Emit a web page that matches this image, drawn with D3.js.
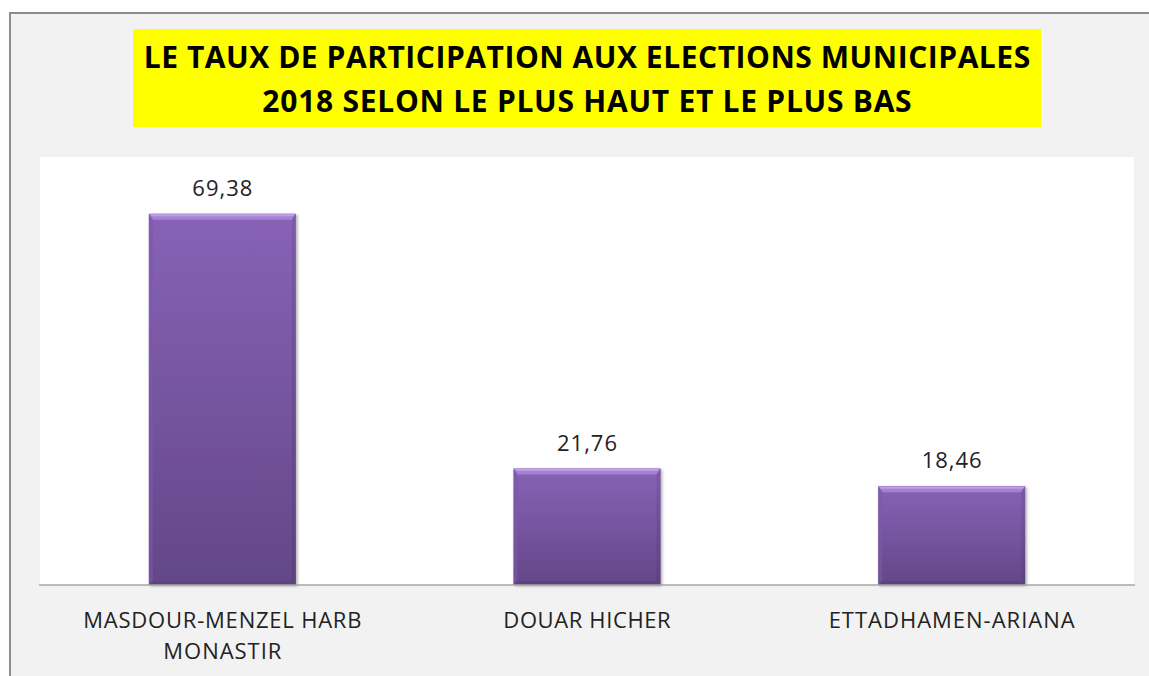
<!DOCTYPE html>
<html><head><meta charset="utf-8">
<script src="https://cdn.jsdelivr.net/npm/d3@7"></script>
<style>html,body{margin:0;padding:0;background:#fff;}</style>
</head><body>
<svg id="chart" width="1149" height="676"></svg>
<script>
const categories = [["MASDOUR-MENZEL HARB","MONASTIR"],["DOUAR HICHER"],["ETTADHAMEN-ARIANA"]];
const values = [69.38, 21.76, 18.46];
const valueLabels = ["69,38","21,76","18,46"];
const titleLines = ["LE TAUX DE PARTICIPATION AUX ELECTIONS MUNICIPALES","2018 SELON LE PLUS HAUT ET LE PLUS BAS"];

const svg = d3.select("#chart");
const W = 1149, H = 676;
const font = "'Open Sans', sans-serif";

const defs = svg.append("defs");
const g1 = defs.append("linearGradient").attr("id","barGrad").attr("x1",0).attr("y1",0).attr("x2",0).attr("y2",1);
g1.append("stop").attr("offset","0%").attr("stop-color","#8862b6");
g1.append("stop").attr("offset","100%").attr("stop-color","#634788");
const g2 = defs.append("linearGradient").attr("id","sideGrad").attr("x1",0).attr("y1",0).attr("x2",0).attr("y2",1);
g2.append("stop").attr("offset","0%").attr("stop-color","#7a56a6");
g2.append("stop").attr("offset","100%").attr("stop-color","#57407a");
const f = defs.append("filter").attr("id","shadow").attr("x","-10%").attr("y","-10%").attr("width","130%").attr("height","130%");
f.append("feDropShadow").attr("dx",1.5).attr("dy",1).attr("stdDeviation",1.5).attr("flood-color","#000").attr("flood-opacity",0.35);

// fit text width by letter-spacing, keeping it centred
function fitEl(el, target){
  const len = el.getComputedTextLength();
  const n = el.textContent.length;
  if (n > 1) {
    const ls = (target - len) / n;
    d3.select(el).attr("letter-spacing", ls.toFixed(3)).attr("dx", (ls/2).toFixed(3));
  }
}

// outer frame
svg.append("rect").attr("x",10).attr("y",13).attr("width",W).attr("height",H).attr("fill","#f2f2f2").attr("stroke","#8c8c8c").attr("stroke-width",2);

// title box
svg.append("rect").attr("x",133).attr("y",29).attr("width",908).attr("height",98).attr("fill","#ffff00");
const titleWidths = [887, 650];
svg.append("g").selectAll("text").data(titleLines).join("text")
  .attr("x",587).attr("y",(d,i)=>68+i*44)
  .attr("text-anchor","middle").attr("font-family",font).attr("font-weight","bold")
  .attr("font-size",30).attr("fill","#000").text(d=>d)
  .each(function(d,i){ fitEl(this, titleWidths[i]); });

// plot area
const pLeft = 40, pRight = 1134, pTop = 157, pBottom = 585;
svg.append("rect").attr("x",pLeft).attr("y",pTop).attr("width",pRight-pLeft).attr("height",pBottom-pTop).attr("fill","#fff");

const x = d3.scaleBand().domain(d3.range(values.length)).range([pLeft,pRight]).paddingInner(0.597).paddingOuter(0.2985);
const y = d3.scaleLinear().domain([0,80]).range([pBottom,pTop]);

const bars = svg.append("g").selectAll("g").data(values).join("g");
bars.append("rect")
  .attr("x",(d,i)=>x(i)).attr("y",d=>y(d)).attr("width",x.bandwidth()).attr("height",d=>y(0)-y(d))
  .attr("fill","url(#barGrad)").attr("filter","url(#shadow)");
const bv = 6, sv = 4;
bars.append("path").attr("d",(d,i)=>{
  const x0=x(i), x1=x(i)+x.bandwidth(), y0=y(d);
  return `M${x0},${y0}L${x1},${y0}L${x1-sv},${y0+bv}L${x0+sv},${y0+bv}Z`;
}).attr("fill","#a885d6").attr("opacity",0.9);
bars.append("path").attr("d",(d,i)=>{
  const x0=x(i), x1=x(i)+x.bandwidth(), y0=y(d);
  return `M${x0+1},${y0+0.5}L${x1-1},${y0+0.5}L${x1-3},${y0+2.5}L${x0+3},${y0+2.5}Z`;
}).attr("fill","#c3a5ee").attr("opacity",0.8);
bars.append("path").attr("d",(d,i)=>{
  const x0=x(i), y0=y(d), yb=y(0);
  return `M${x0},${y0}L${x0+sv},${y0+bv}L${x0+sv},${yb-sv}L${x0},${yb}Z`;
}).attr("fill","#7c58aa").attr("opacity",0.6);
bars.append("path").attr("d",(d,i)=>{
  const x1=x(i)+x.bandwidth(), y0=y(d), yb=y(0);
  return `M${x1},${y0}L${x1-sv},${y0+bv}L${x1-sv},${yb-sv}L${x1},${yb}Z`;
}).attr("fill","url(#sideGrad)").attr("opacity",0.7);
bars.append("path").attr("d",(d,i)=>{
  const x0=x(i), x1=x(i)+x.bandwidth(), yb=y(0);
  return `M${x0},${yb}L${x0+sv},${yb-sv}L${x1-sv},${yb-sv}L${x1},${yb}Z`;
}).attr("fill","#5a417e").attr("opacity",0.8);

svg.append("g").selectAll("text").data(values).join("text")
  .attr("x",(d,i)=>x(i)+x.bandwidth()/2).attr("y",d=>y(d)-18)
  .attr("text-anchor","middle").attr("font-family",font).attr("font-size",22).attr("fill","#222")
  .text((d,i)=>valueLabels[i])
  .each(function(){ fitEl(this, 61); });

const xAxis = d3.axisBottom(x).tickSize(0).tickFormat("");
const ax = svg.append("g").attr("transform",`translate(0,${pBottom})`).call(xAxis);
ax.select(".domain").attr("stroke","#a6a6a6").attr("stroke-width",1.5).attr("d",`M${pLeft-1},0H${pRight+1}`);

const labelWidths = {"MASDOUR-MENZEL HARB":279,"MONASTIR":119,"DOUAR HICHER":168,"ETTADHAMEN-ARIANA":247};
const labs = svg.append("g").selectAll("text").data(categories).join("text")
  .attr("x",(d,i)=>x(i)+x.bandwidth()/2).attr("y",628)
  .attr("text-anchor","middle").attr("font-family",font).attr("font-size",22).attr("fill","#222");
labs.selectAll("tspan").data(d=>d).join("tspan")
  .attr("x",function(){return d3.select(this.parentNode).attr("x");})
  .attr("dy",(d,i)=>i===0?0:31).text(d=>d);
labs.selectAll("tspan").each(function(d){ fitEl(this, labelWidths[d]); });
</script>
</body></html>
